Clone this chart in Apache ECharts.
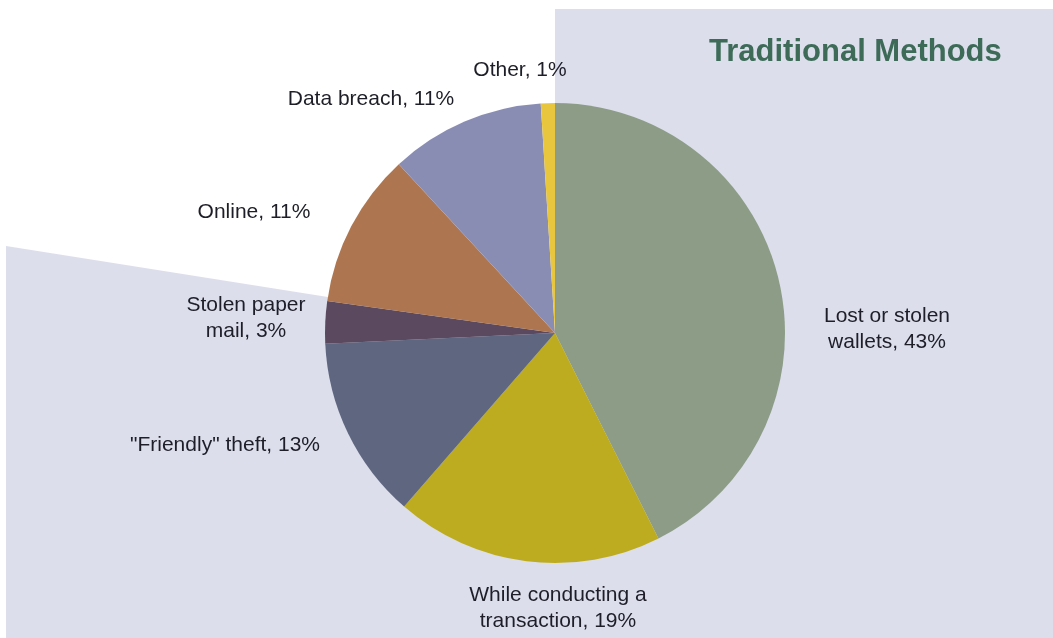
<!DOCTYPE html>
<html>
<head>
<meta charset="utf-8">
<script src="https://cdn.jsdelivr.net/npm/echarts@6/dist/echarts.min.js"></script>
<style>
    html, body { margin: 0; padding: 0; background: #fff; }
    #main { width: 1053px; height: 638px; }
</style>
</head>
<body>
<div id="main"></div>
<script>
// 数据
var categories = ['Lost or stolen\nwallets', 'While conducting a\ntransaction', '"Friendly" theft', 'Stolen paper\nmail', 'Online', 'Data breach', 'Other'];
var percents = [43, 19, 13, 3, 11, 11, 1];
var colors = ['#8c9c86', '#bdac1f', '#5f6680', '#5b4a5f', '#ae7650', '#8a8db3', '#e8c63e'];
// 标签相对饼图中心的偏移
var labelOffsets = [[332, -4], [3, 275], [-330, 112], [-309, -15], [-301, -121], [-184, -234], [-35, -263]];

var cx = 555, cy = 333, r = 230;
var myChart = echarts.init(document.getElementById('main'));
var pieData = [];
for (var i = 0; i < categories.length; i++) {
    pieData.push({
        name: categories[i],
        value: percents[i],
        itemStyle: { color: colors[i] }
    });
}
var option = {
    animation: false,
    graphic: [{
        type: 'polygon',
        z: -10,
        silent: true,
        shape: {
            points: [[cx, 9], [1053, 9], [1053, 638], [6, 638], [6, 246], [cx, cy]]
        },
        style: { fill: '#dcdeec' }
    }, {
        type: 'text',
        x: 709,
        y: 52,
        style: {
            text: 'Traditional Methods',
            fill: '#3d6b58',
            align: 'left',
            verticalAlign: 'middle',
            font: 'bold 31px "Liberation Sans", Arial, sans-serif'
        }
    }],
    series: [{
        type: 'pie',
        center: [cx, cy],
        radius: r,
        startAngle: 90,
        clockwise: true,
        data: pieData,
        label: {
            show: true,
            position: 'outside',
            formatter: function (p) {
                return p.name + ', ' + p.value + '%';
            },
            color: '#1e1e28',
            fontSize: 21,
            lineHeight: 26,
            align: 'center',
            fontFamily: '"Liberation Sans", Arial, sans-serif'
        },
        labelLine: { show: false },
        labelLayout: function (params) {
            var off = labelOffsets[params.dataIndex];
            return {
                x: cx + off[0],
                y: cy + off[1],
                align: 'center',
                verticalAlign: 'middle',
                hideOverlap: false
            };
        },
        emphasis: { disabled: true }
    }]
};
myChart.setOption(option);
</script>
</body>
</html>
